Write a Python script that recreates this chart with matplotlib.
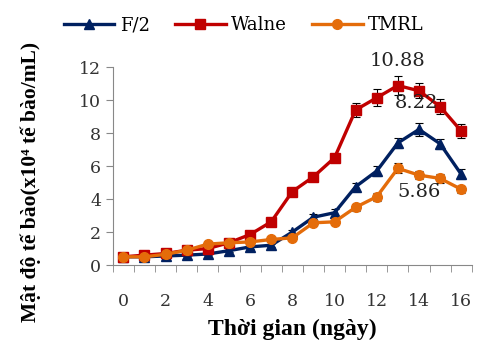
import matplotlib.pyplot as plt
import numpy as np

days = np.arange(17)
f2 = [0.5, 0.5, 0.55, 0.6, 0.67, 0.87, 1.1, 1.2, 2.0, 2.9, 3.17, 4.75, 5.7, 7.4, 8.22, 7.35, 5.5]
walne = [0.5, 0.6, 0.7, 0.9, 1.0, 1.35, 1.85, 2.62, 4.45, 5.35, 6.5, 9.4, 10.14, 10.88, 10.56, 9.6, 8.12]
tmrl = [0.5, 0.5, 0.65, 0.9, 1.27, 1.35, 1.4, 1.55, 1.65, 2.56, 2.62, 3.5, 4.14, 5.86, 5.45, 5.25, 4.59]
f2_err = [0.05, 0.05, 0.05, 0.05, 0.05, 0.1, 0.1, 0.1, 0.15, 0.2, 0.2, 0.25, 0.3, 0.3, 0.4, 0.3, 0.3]
walne_err = [0.05, 0.05, 0.05, 0.05, 0.1, 0.1, 0.1, 0.1, 0.15, 0.15, 0.15, 0.4, 0.5, 0.55, 0.45, 0.45, 0.4]
tmrl_err = [0.05, 0.05, 0.05, 0.05, 0.1, 0.1, 0.1, 0.1, 0.1, 0.15, 0.2, 0.2, 0.25, 0.3, 0.25, 0.25, 0.2]
labels = ["F/2", "Walne", "TMRL"]

plt.rcParams["font.family"] = ["DejaVu Serif"]

fig = plt.figure(figsize=(4.78, 3.42), dpi=100)
ax = fig.add_axes([0.236, 0.225, 0.751, 0.579])

series = [(f2, f2_err, "#002060", "^"), (walne, walne_err, "#C00000", "s"), (tmrl, tmrl_err, "#E46C0A", "o")]
handles = []
for (vals, err, col, mk), lab in zip(series, labels):
    c = ax.errorbar(days, vals, yerr=err, color=col, marker=mk, markersize=7, linewidth=2.4,
                    ecolor="black", elinewidth=0.8, capsize=3, capthick=0.8, label=lab)
    handles.append(c[0])

# peak values
ax.text(13.0, 11.85, "10.88", ha="center", va="bottom", fontsize=14, color="#222222")
ax.text(13.9, 9.8, "8.22", ha="center", va="center", fontsize=14, color="#222222")
ax.text(14.0, 4.4, "5.86", ha="center", va="center", fontsize=14, color="#222222")

ax.set_xlim(-0.5, 16.5)
ax.set_ylim(0, 12)
ax.set_yticks(range(0, 13, 2))
ax.set_xticks(range(0, 17, 2))
ax.set_xticks(np.arange(-0.5, 17, 1), minor=True)
ax.tick_params(axis="x", which="major", length=0, pad=20, labelsize=12.5, colors="#333333")
ax.tick_params(axis="x", which="minor", length=5, color="#888888")
ax.tick_params(axis="y", length=5, color="#888888", labelsize=12.5, labelcolor="#333333")
for s in ["top", "right"]:
    ax.spines[s].set_visible(False)
for s in ["left", "bottom"]:
    ax.spines[s].set_color("#888888")

ax.set_xlabel("Thời gian (ngày)", fontsize=17, fontweight="bold", family="Liberation Serif")
ax.xaxis.set_label_coords(0.5, -0.27)
ax.set_ylabel("Mật độ tế bào(x10⁴ tế bào/mL)", fontsize=15.5, fontweight="bold",
              family=["Liberation Serif", "DejaVu Serif"])
ax.yaxis.set_label_coords(-0.20, 0.42)

fig.legend(handles, labels, loc="upper center", bbox_to_anchor=(0.51, 1.0), ncol=3, frameon=False,
           fontsize=13, handlelength=2.8, columnspacing=1.4, handletextpad=0.3)

fig.savefig("out.png", dpi=100)
